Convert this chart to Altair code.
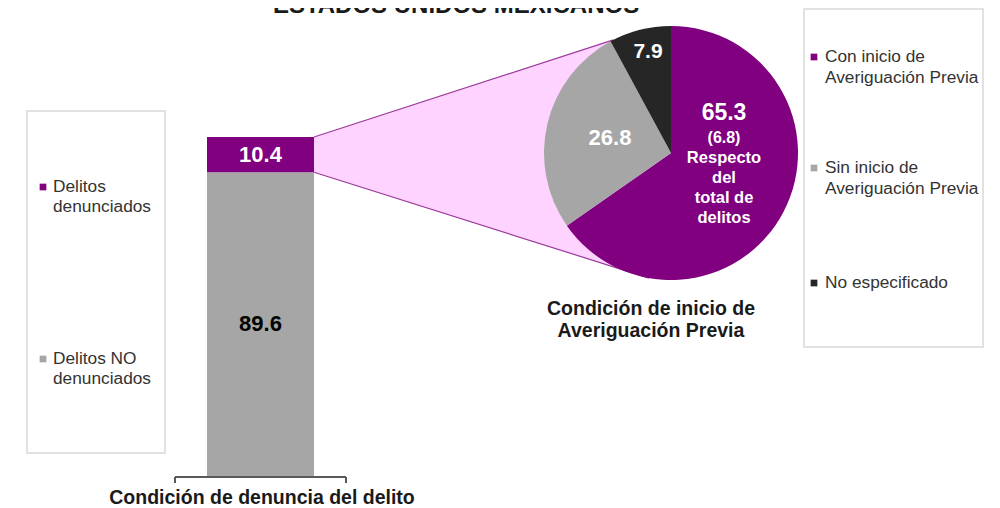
import math
import altair as alt
import pandas as pd

# ---------------- data ----------------
title_text = "ESTADOS UNIDOS MEXICANOS"
bar_cats = ["Delitos denunciados", "Delitos NO denunciados"]
bar_vals = [10.4, 89.6]
bar_legend_lines = [["Delitos", "denunciados"], ["Delitos NO", "denunciados"]]
bar_axis_label = "Condición de denuncia del delito"

pie_cats = ["Con inicio de Averiguación Previa", "Sin inicio de Averiguación Previa", "No especificado"]
pie_vals = [65.3, 26.8, 7.9]
pie_legend_lines = [["Con inicio de", "Averiguación Previa"],
                    ["Sin inicio de", "Averiguación Previa"],
                    ["No especificado"]]
pie_note_value = "(6.8)"
pie_note_lines = ["Respecto", "del", "total de", "delitos"]
pie_title_lines = ["Condición de inicio de", "Averiguación Previa"]

# ---------------- styles ----------------
PURPLE = "#800080"
GRAY = "#A6A6A6"
BLACK = "#262626"
PINK = "#FFD3FF"
LINE = "#9B3A9B"
BOX = "#D9D9D9"
TXT = "#333333"
FONT = "Liberation Sans"
bar_colors = [PURPLE, GRAY]
pie_colors = [PURPLE, GRAY, BLACK]
bar_label_colors = ["white", "black"]

# ---------------- layout (view pixels; page offset 8) ----------------
OFF = 8
W, H = 984, 500
BAR_X0, BAR_X1 = 207 - OFF, 314 - OFF
BAR_Y0, BAR_Y100 = 476 - OFF, 137 - OFF
CX, CY, R = 671 - OFF, 153 - OFF, 127


def ymap(v):
    return BAR_Y0 + (BAR_Y100 - BAR_Y0) * v / 100.0


def on_circle(deg):
    a = math.radians(deg)
    return CX + R * math.sin(a), CY - R * math.cos(a)


color_scale = alt.Scale(domain=bar_cats + pie_cats, range=bar_colors + pie_colors)
XN = lambda f: alt.X(f, scale=None, axis=None)
YN = lambda f: alt.Y(f, scale=None, axis=None)

# ---------------- bar ----------------
rows = []
acc = 0.0
for i in reversed(range(len(bar_cats))):
    rows.append(dict(cat=bar_cats[i], val=bar_vals[i], lo=acc, hi=acc + bar_vals[i],
                     mid=acc + bar_vals[i] / 2, lab=f"{bar_vals[i]:.1f}", tc=bar_label_colors[i]))
    acc += bar_vals[i]
bar_df = pd.DataFrame(rows)
ys = alt.Scale(domain=[0, 100], range=[BAR_Y0, BAR_Y100])

bar = alt.Chart(bar_df).mark_bar().encode(
    x=alt.value(BAR_X0), x2=alt.value(BAR_X1),
    y=alt.Y("lo:Q", scale=ys, axis=None), y2="hi:Q",
    color=alt.Color("cat:N", scale=color_scale, legend=None),
)
bar_text = alt.Chart(bar_df).mark_text(font=FONT, fontSize=22, fontWeight="bold", baseline="middle").encode(
    x=alt.value((BAR_X0 + BAR_X1) / 2),
    y=alt.Y("mid:Q", scale=ys, axis=None),
    text="lab:N",
    color=alt.Color("tc:N", scale=None),
)

# bracket-style axis below bar
bx0, bx1 = BAR_X0 - 32, BAR_X1 + 32
by = BAR_Y0 + 1
br_df = pd.DataFrame([
    dict(x=bx0, y=by, x2=bx1, y2=by),
    dict(x=bx0, y=by, x2=bx0, y2=by + 6),
    dict(x=bx1, y=by, x2=bx1, y2=by + 6),
])
bracket = alt.Chart(br_df).mark_rule(color="#595959", strokeWidth=2).encode(
    x=XN("x:Q"), y=YN("y:Q"), x2="x2:Q", y2="y2:Q")

# ---------------- connector ----------------
ux, uy = on_circle(333)
lx, ly = on_circle(190)
ax_, ay_ = BAR_X1, ymap(100)
dx_, dy_ = BAR_X1, ymap(100 - bar_vals[0])


def lower_at(x):
    return dy_ + (ly - dy_) * (x - dx_) / (lx - dx_)


area_df = pd.DataFrame([
    dict(x=ax_, y=ay_, y2=dy_),
    dict(x=ux, y=uy, y2=lower_at(ux)),
    dict(x=lx, y=ly, y2=ly),
])
conn_area = alt.Chart(area_df).mark_area(color=PINK).encode(
    x=XN("x:Q"), y=YN("y:Q"), y2="y2:Q")
conn_df = pd.DataFrame([
    dict(x=ax_, y=ay_, x2=ux, y2=uy),
    dict(x=dx_, y=dy_, x2=lx, y2=ly),
])
conn_lines = alt.Chart(conn_df).mark_rule(color=LINE, strokeWidth=1.2).encode(
    x=XN("x:Q"), y=YN("y:Q"), x2="x2:Q", y2="y2:Q")

# ---------------- pie ----------------
pie_df = pd.DataFrame(dict(cat=pie_cats, val=pie_vals, ord=list(range(len(pie_cats)))))
pie = alt.Chart(pie_df).mark_arc(outerRadius=R).encode(
    theta=alt.Theta("val:Q", stack=True),
    order=alt.Order("ord:Q"),
    color=alt.Color("cat:N", scale=color_scale, legend=None),
    x=alt.value(CX), y=alt.value(CY),
)

pie_lab_df = pd.DataFrame([
    dict(x=CX + 53, y=CY - 40, t=f"{pie_vals[0]:.1f}", s=23),
    dict(x=CX - 61, y=CY - 15, t=f"{pie_vals[1]:.1f}", s=22),
    dict(x=CX - 23, y=CY - 101, t=f"{pie_vals[2]:.1f}", s=21),
    dict(x=CX + 53, y=CY - 15, t=pie_note_value, s=16),
] + [dict(x=CX + 53, y=CY + 5 + 20 * k, t=line, s=16.5) for k, line in enumerate(pie_note_lines)])
pie_text = alt.Chart(pie_lab_df).mark_text(font=FONT, fontWeight="bold", color="white", baseline="middle").encode(
    x=XN("x:Q"), y=YN("y:Q"), text="t:N", size=alt.Size("s:Q", scale=None, legend=None))

# ---------------- titles ----------------
ttl_df = pd.DataFrame([
    dict(x=456 - OFF, y=5, t=title_text, s=24),
    dict(x=262 - OFF, y=504 - OFF, t=bar_axis_label, s=19.5),
] + [dict(x=651 - OFF, y=315 - OFF + 22 * k, t=line, s=19.5) for k, line in enumerate(pie_title_lines)])
titles = alt.Chart(ttl_df).mark_text(font=FONT, fontWeight="bold", color="#1A1A1A", baseline="alphabetic").encode(
    x=XN("x:Q"), y=YN("y:Q"), text="t:N", size=alt.Size("s:Q", scale=None, legend=None))

# ---------------- legends ----------------
box_df = pd.DataFrame([
    dict(x=27 - OFF, y=111 - OFF, x2=165 - OFF, y2=453 - OFF),
    dict(x=804 - OFF, y=9 - OFF, x2=983 - OFF, y2=347 - OFF),
])
boxes = alt.Chart(box_df).mark_rect(fill="white", stroke=BOX, strokeWidth=1.5).encode(
    x=XN("x:Q"), y=YN("y:Q"), x2="x2:Q", y2="y2:Q")

sym_rows, txt_rows = [], []
for cat, lines, y0 in zip(bar_cats, bar_legend_lines, [187, 359]):
    sym_rows.append(dict(x=43 - OFF, y=y0 - OFF, cat=cat))
    for k, line in enumerate(lines):
        txt_rows.append(dict(x=53 - OFF, y=y0 - OFF + 20 * k, t=line))
for cat, lines, y0 in zip(pie_cats, pie_legend_lines, [57, 168, 283]):
    sym_rows.append(dict(x=814 - OFF, y=y0 - OFF, cat=cat))
    for k, line in enumerate(lines):
        txt_rows.append(dict(x=825 - OFF, y=y0 - OFF + 21 * k, t=line))
sym_df = pd.DataFrame(sym_rows)
txt_df = pd.DataFrame(txt_rows)
syms = alt.Chart(sym_df).mark_square(size=45, opacity=1).encode(
    x=XN("x:Q"), y=YN("y:Q"),
    color=alt.Color("cat:N", scale=color_scale, legend=None))
leg_text = alt.Chart(txt_df).mark_text(font=FONT, fontSize=17.3, color=TXT, align="left", baseline="middle").encode(
    x=XN("x:Q"), y=YN("y:Q"), text="t:N")

chart = alt.layer(
    boxes, conn_area, conn_lines, bar, bar_text, bracket, pie, pie_text, titles, syms, leg_text
).resolve_scale(
    x="independent", y="independent", color="independent", size="independent", theta="independent"
).properties(
    width=W, height=H, autosize=alt.AutoSizeParams(type="none"), padding=0, background="white"
).configure_view(stroke=None)

chart.save("out.html", embed_options={"renderer": "svg", "actions": False})
